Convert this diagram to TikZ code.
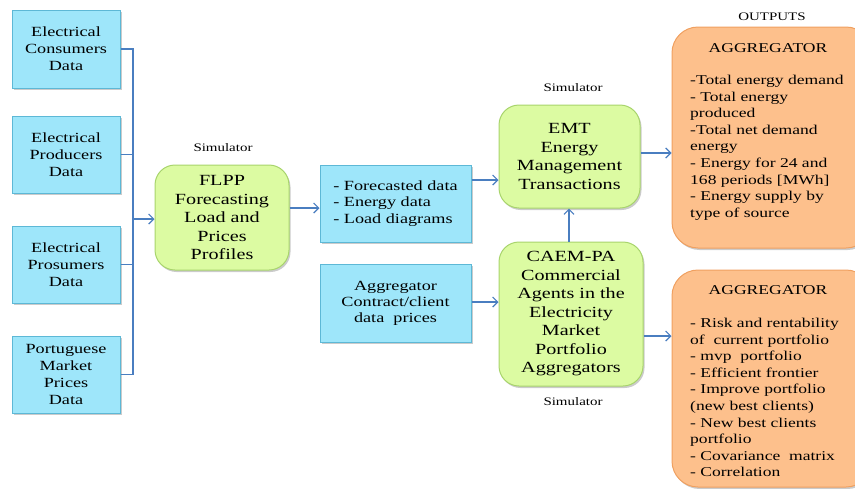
\documentclass[tikz,border=0pt]{standalone}
\usepackage{fontspec}
\setmainfont{Liberation Serif}[FakeStretch=1.3]
\usetikzlibrary{shadows,arrows.meta}

\definecolor{dataFill}{HTML}{9EE6FA}
\definecolor{dataLine}{HTML}{5DB8D6}
\definecolor{simFill}{HTML}{DCFBA2}
\definecolor{simLine}{HTML}{A8D46C}
\definecolor{outFill}{HTML}{FDC08C}
\definecolor{outLine}{HTML}{F0A060}
\definecolor{linkCol}{HTML}{4A7EC0}

\newcommand\fsz[2]{\fontsize{#1}{#2}\selectfont}

\tikzset{
  softshadow/.style={drop shadow={shadow xshift=1.5pt, shadow yshift=-2pt, fill=black!45, opacity=0.45}},
  databox/.style={draw=dataLine, fill=dataFill, line width=1pt, softshadow,
    align=center, inner sep=0pt, font=\fsz{14}{17}},
  simbox/.style={draw=simLine, fill=simFill, line width=1pt, rounded corners=20pt, softshadow,
    align=center, inner sep=0pt, font=\fsz{15.5}{18.5}},
  outbox/.style={draw=outLine, fill=outFill, line width=1pt, rounded corners=26pt, softshadow,
    inner sep=0pt},
  link/.style={draw=linkCol, line width=1.2pt},
  arrow/.style={link, -{Straight Barb[length=5pt,width=10pt,line width=1.2pt]}},
  tag/.style={font=\fsz{11.5}{13}, inner sep=0pt},
  outtitle/.style={font=\fsz{13.5}{16}, inner sep=0pt},
  outtext/.style={font=\fsz{13.5}{16.6}, align=left, inner sep=0pt, anchor=north west},
}

\begin{document}
\begin{tikzpicture}[x=1pt, y=-1pt]
\useasboundingbox (0,0) rectangle (855,488);
\clip (0,0) rectangle (855,488);

% input data boxes
\node[databox, minimum width=108pt, minimum height=78pt] (cons) at (66,49) {Electrical\\Consumers\\Data};
\node[databox, minimum width=108pt, minimum height=77pt] (prod) at (66,154.5) {Electrical\\Producers\\Data};
\node[databox, minimum width=108pt, minimum height=77pt] (pros) at (66,264.5) {Electrical\\Prosumers\\Data};
\node[databox, minimum width=108pt, minimum height=77pt] (mkt) at (66,374.5) {Portuguese\\Market\\Prices\\Data};

% simulators
\node[simbox, minimum width=134pt, minimum height=105pt] (flpp) at (222,217.5) {FLPP\\Forecasting\\Load and\\Prices\\Profiles};
\node[simbox, minimum width=141pt, minimum height=103pt] (emt) at (569.5,156.5) {EMT\\Energy\\Management\\Transactions};
\node[simbox, minimum width=144pt, minimum height=144pt] (caem) at (571,314) {CAEM-PA\\Commercial\\Agents in the\\Electricity\\Market\\Portfolio\\Aggregators};

% intermediate data
\node[databox, minimum width=151pt, minimum height=77pt, align=left, font=\fsz{14}{16.5}] (fdata) at (395.5,203.5)
  {- Forecasted data\\- Energy data\\- Load diagrams};
\node[databox, minimum width=151pt, minimum height=78pt, font=\fsz{14}{16}] (agg) at (395.5,303)
  {Aggregator\\Contract/client\\data\ \ prices};

% outputs
\node[outbox, minimum width=200pt, minimum height=221pt] (out1) at (772,137.5) {};
\node[outbox, minimum width=200pt, minimum height=217pt] (out2) at (772,378.5) {};

\node[outtitle] (out1t) at (768,48) {AGGREGATOR};
\node[outtext] (out1b) at (690,75) {-Total energy demand\\- Total energy\\produced\\-Total net demand\\energy\\- Energy for 24 and\\168 periods [MWh]\\- Energy supply by\\type of source};

\node[outtitle] (out2t) at (768,290) {AGGREGATOR};
\node[outtext] (out2b) at (690,318) {- Risk and rentability\\of\ \ current portfolio\\- mvp\ \ portfolio\\- Efficient frontier\\- Improve portfolio\\(new best clients)\\- New best clients\\portfolio\\- Covariance\ \ matrix\\- Correlation};

% captions
\node[tag] (s1) at (223,148) {Simulator};
\node[tag] (s2) at (573,88) {Simulator};
\node[tag] (s3) at (573,402) {Simulator};
\node[tag] (outs) at (772,17) {OUTPUTS};

% collecting bus from the input boxes
\coordinate (bus) at (133,219);
\draw[link] (cons.east) -- (cons.east -| bus) |- (mkt.east);
\draw[link] (prod.east) -- (prod.east -| bus);
\draw[link] (pros.east) -- (pros.east -| bus);
\draw[arrow] (bus) -- (bus -| flpp.west);

% flows between blocks
\draw[arrow] (flpp.east |- 0,208) -- (fdata.west |- 0,208);
\draw[arrow] (fdata.east |- 0,180) -- (emt.west |- 0,180);
\draw[arrow] (agg.east |- 0,302) -- (caem.west |- 0,302);
\draw[arrow] (caem.north -| 569,0) -- (emt.south -| 569,0);
\draw[arrow] (emt.east |- 0,153) -- (out1.west |- 0,153);
\draw[arrow] (caem.east |- 0,336) -- (out2.west |- 0,336);
\end{tikzpicture}
\end{document}
